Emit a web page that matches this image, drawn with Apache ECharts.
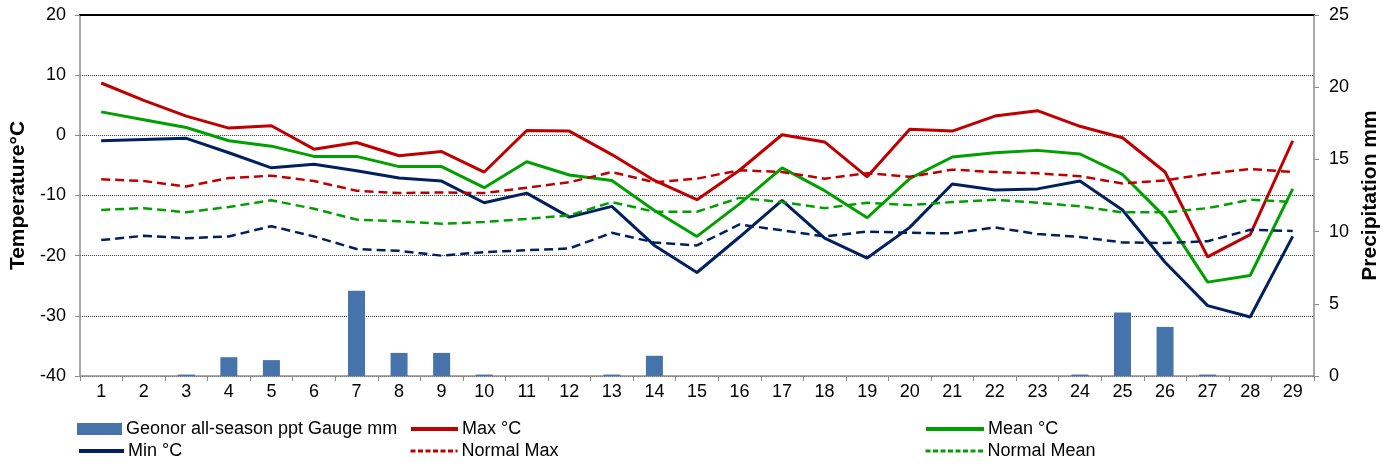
<!DOCTYPE html>
<html>
<head>
<meta charset="utf-8">
<script src="https://cdn.jsdelivr.net/npm/echarts@6/dist/echarts.min.js"></script>
<style>
html,body{margin:0;padding:0;background:#fff;}
#c{width:1397px;height:470px;}
</style>
</head>
<body>
<div id="c"></div>
<script>
const days = ['1','2','3','4','5','6','7','8','9','10','11','12','13','14','15','16','17','18','19','20','21','22','23','24','25','26','27','28','29'];
const precip = [0,0,0.1,1.3,1.1,0,5.9,1.6,1.6,0.1,0,0,0.1,1.4,0,0,0,0,0,0,0,0,0,0.1,4.4,3.4,0.1,0,0];
const maxT = [8.7,5.8,3.2,1.2,1.6,-2.3,-1.2,-3.4,-2.7,-6.1,0.8,0.7,-3.2,-7.5,-10.7,-5.8,0.1,-1.1,-6.9,1.0,0.7,3.2,4.1,1.5,-0.4,-6.1,-20.2,-16.5,-0.9];
const meanT = [3.9,2.6,1.3,-0.9,-1.8,-3.5,-3.5,-5.2,-5.2,-8.7,-4.4,-6.6,-7.5,-12.5,-16.8,-11.4,-5.4,-9.2,-13.7,-7.2,-3.6,-2.9,-2.5,-3.1,-6.5,-13.6,-24.4,-23.3,-8.9];
const minT = [-0.9,-0.7,-0.5,-2.9,-5.4,-4.8,-5.9,-7.1,-7.6,-11.2,-9.6,-13.6,-11.8,-18.3,-22.8,-16.9,-10.8,-17.1,-20.4,-15.3,-8.1,-9.1,-8.9,-7.6,-12.4,-21.1,-28.3,-30.2,-16.8];
const normalMax = [-7.3,-7.6,-8.5,-7.1,-6.7,-7.6,-9.2,-9.6,-9.5,-9.6,-8.7,-7.8,-6.1,-7.8,-7.2,-5.8,-6.1,-7.2,-6.3,-6.9,-5.7,-6.1,-6.3,-6.8,-8.0,-7.5,-6.4,-5.6,-6.1];
const normalMean = [-12.4,-12.1,-12.8,-11.9,-10.8,-12.2,-14.0,-14.3,-14.7,-14.4,-13.9,-13.3,-11.1,-12.7,-12.7,-10.4,-11.1,-12.1,-11.2,-11.6,-11.1,-10.7,-11.2,-11.8,-12.8,-12.8,-12.1,-10.7,-11.1];
const normalMin = [-17.4,-16.7,-17.1,-16.8,-15.1,-16.8,-18.9,-19.2,-20.0,-19.4,-19.1,-18.8,-16.2,-17.8,-18.3,-14.8,-15.8,-16.8,-16.0,-16.2,-16.3,-15.3,-16.4,-16.9,-17.8,-17.9,-17.6,-15.7,-15.9];
const tempTicks = {min:-40, max:20, interval:10};
const precipTicks = {min:0, max:25, interval:5};

const FONT = 'Liberation Sans, Arial, sans-serif';
const RED = '#C00000', GREEN = '#00A000', NAVY = '#002060', BLUE = '#4674AA';

function lineSeries(name, data, color, dashed){
  return {
    name: name, type: 'line', data: data, yAxisIndex: 0,
    symbol: 'none', showSymbol: false, smooth: false,
    lineStyle: {color: color, width: dashed ? 2.5 : 3, type: dashed ? [9,5] : 'solid'},
    itemStyle: {color: color}
  };
}
function legendAt(name, left, top, w, isLine, dashed){
  const l = {
    data: [name], left: left, top: top, itemWidth: w, itemHeight: 12, itemGap: 0,
    padding: 0, selectedMode: false,
    textStyle: {fontFamily: FONT, fontSize: 18, color: '#000', padding: [0,0,0,-1]}
  };
  if (isLine) {
    l.itemStyle = {opacity: 0};
    l.lineStyle = {width: dashed ? 3 : 4, type: dashed ? [5,2.5] : 'solid'};
  } else {
    l.icon = 'rect';
  }
  return l;
}

const chart = echarts.init(document.getElementById('c'));
chart.setOption({
  animation: false,
  backgroundColor: '#fff',
  grid: {left: 77, right: 83, top: 15, bottom: 94},
  legend: [
    legendAt('Geonor all-season ppt Gauge mm', 77, 420, 45, false),
    legendAt('Max °C', 409, 420, 47, true, false),
    legendAt('Mean °C', 924, 420, 58, true, false),
    legendAt('Min °C', 77, 442, 45, true, false),
    legendAt('Normal Max', 409, 442, 47, true, true),
    legendAt('Normal Mean', 924, 442, 58, true, true)
  ],
  xAxis: [{
    type: 'category', data: days, boundaryGap: true,
    axisLine: {onZero: false, lineStyle: {color: '#8c8c8c', width: 1.5}},
    axisTick: {show: true, length: 5, lineStyle: {color: '#8c8c8c'}},
    axisLabel: {fontFamily: FONT, fontSize: 18, color: '#000', margin: 7}
  },{
    type: 'category', data: days, position: 'top',
    axisLine: {show: true, onZero: false, lineStyle: {color: '#000', width: 2}},
    axisTick: {show: false}, axisLabel: {show: false}, splitLine: {show: false}
  }],
  yAxis: [{
    type: 'value', min: tempTicks.min, max: tempTicks.max, interval: tempTicks.interval,
    name: 'Temperature°C', nameLocation: 'middle', nameRotate: 90, nameGap: 48,
    nameTextStyle: {fontFamily: FONT, fontSize: 21, fontWeight: 'bold', color: '#000'},
    axisLine: {show: true, onZero: false, lineStyle: {color: '#8c8c8c', width: 1.5}},
    axisTick: {show: true, length: 5, lineStyle: {color: '#8c8c8c'}},
    axisLabel: {fontFamily: FONT, fontSize: 18, color: '#000', margin: 14},
    splitLine: {show: true, lineStyle: {color: '#333', type: [1,1], width: 1}}
  },{
    type: 'value', min: precipTicks.min, max: precipTicks.max, interval: precipTicks.interval,
    name: 'Precipitation mm', nameLocation: 'middle', nameRotate: 90, nameGap: 45,
    nameTextStyle: {fontFamily: FONT, fontSize: 21, fontWeight: 'bold', color: '#000'},
    axisLine: {show: true, onZero: false, lineStyle: {color: '#8c8c8c', width: 1.5}},
    axisTick: {show: true, length: 5, lineStyle: {color: '#8c8c8c'}},
    axisLabel: {fontFamily: FONT, fontSize: 18, color: '#000', margin: 15},
    splitLine: {show: false}
  }],
  series: [
    {name: 'Geonor all-season ppt Gauge mm', type: 'bar', data: precip, yAxisIndex: 1,
     barWidth: 17, itemStyle: {color: BLUE}},
    lineSeries('Max °C', maxT, RED, false),
    lineSeries('Mean °C', meanT, GREEN, false),
    lineSeries('Min °C', minT, NAVY, false),
    lineSeries('Normal Max', normalMax, RED, true),
    lineSeries('Normal Mean', normalMean, GREEN, true),
    lineSeries('Normal Min', normalMin, NAVY, true)
  ]
});
</script>
</body>
</html>
